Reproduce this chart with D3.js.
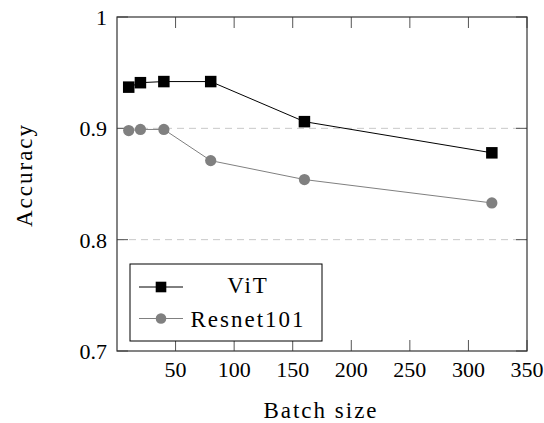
<!DOCTYPE html>
<html><head><meta charset="utf-8"><script src="https://cdn.jsdelivr.net/npm/d3@7"></script></head>
<body style="margin:0">
<svg id="chart" width="544" height="423" style="display:block;background:#fff"></svg>
<script>
const batchSizes = [10, 20, 40, 80, 160, 320];
const vitAccuracy = [0.937, 0.941, 0.942, 0.942, 0.906, 0.878];
const resnetAccuracy = [0.898, 0.899, 0.899, 0.871, 0.854, 0.833];
const xTicks = [50, 100, 150, 200, 250, 300, 350];
const yTicks = [0.7, 0.8, 0.9, 1];
const gridTicks = [0.8, 0.9];
const seriesNames = ["ViT", "Resnet101"];

const svg = d3.select("#chart");
const L = 117, R = 527, T = 17, B = 351;
const x = d3.scaleLinear().domain([0, 350]).range([L, R]);
const y = d3.scaleLinear().domain([0.7, 1]).range([B, T]);

function label(sel) {
  return sel.style("font-family", "'Liberation Serif'");
}

// grid
svg.append("g").selectAll("line").data(gridTicks).join("line")
  .attr("x1", L).attr("x2", R)
  .attr("y1", d => y(d)).attr("y2", d => y(d))
  .attr("stroke", "#c8c8c8").attr("stroke-width", 1)
  .attr("stroke-dasharray", "7,5");

// ticks (inside, mirrored)
const tl = 11;
const tg = svg.append("g").attr("stroke", "#555").attr("stroke-width", 1);
xTicks.forEach(t => {
  tg.append("line").attr("x1", x(t)).attr("x2", x(t)).attr("y1", B).attr("y2", B - tl);
  tg.append("line").attr("x1", x(t)).attr("x2", x(t)).attr("y1", T).attr("y2", T + tl);
});
yTicks.forEach(t => {
  tg.append("line").attr("y1", y(t)).attr("y2", y(t)).attr("x1", L).attr("x2", L + tl);
  tg.append("line").attr("y1", y(t)).attr("y2", y(t)).attr("x1", R).attr("x2", R - tl);
});

// frame
svg.append("rect").attr("x", L).attr("y", T).attr("width", R - L).attr("height", B - T)
  .attr("fill", "none").attr("stroke", "#333").attr("stroke-width", 1.2);

// tick labels
label(svg.append("g").selectAll("text").data(xTicks).join("text"))
  .attr("x", d => x(d)).attr("y", 377).attr("text-anchor", "middle")
  .attr("font-size", 22).text(d => String(d));
label(svg.append("g").selectAll("text").data(yTicks).join("text"))
  .attr("x", 107).attr("y", d => y(d) + 8).attr("text-anchor", "end")
  .attr("font-size", 22).text(d => String(d));

// axis titles
label(svg.append("text")).attr("x", 321).attr("y", 418).attr("text-anchor", "middle")
  .attr("font-size", 23).attr("letter-spacing", 2).text("Batch size");
label(svg.append("text")).attr("transform", "translate(32,175) rotate(-90)")
  .attr("text-anchor", "middle").attr("font-size", 23).attr("letter-spacing", 2).text("Accuracy");

// series
const line = d3.line().x((d, i) => x(batchSizes[i])).y(d => y(d));
svg.append("path").datum(resnetAccuracy).attr("d", line)
  .attr("fill", "none").attr("stroke", "#808080").attr("stroke-width", 1);
svg.append("g").selectAll("circle").data(resnetAccuracy).join("circle")
  .attr("cx", (d, i) => x(batchSizes[i])).attr("cy", d => y(d)).attr("r", 5.6)
  .attr("fill", "#808080");
svg.append("path").datum(vitAccuracy).attr("d", line)
  .attr("fill", "none").attr("stroke", "#000").attr("stroke-width", 1);
const sq = 11.5;
svg.append("g").selectAll("rect").data(vitAccuracy).join("rect")
  .attr("x", (d, i) => x(batchSizes[i]) - sq / 2).attr("y", d => y(d) - sq / 2)
  .attr("width", sq).attr("height", sq).attr("fill", "#000");

// legend
const lg = svg.append("g");
lg.append("rect").attr("x", 130).attr("y", 264).attr("width", 192).attr("height", 77)
  .attr("fill", "#fff").attr("stroke", "#000").attr("stroke-width", 1);
const rows = [
  {name: seriesNames[0], cy: 287, ty: 293, color: "#000", shape: "square"},
  {name: seriesNames[1], cy: 318.5, ty: 326.5, color: "#808080", shape: "circle"}
];
rows.forEach(r => {
  lg.append("line").attr("x1", 139).attr("x2", 183).attr("y1", r.cy).attr("y2", r.cy)
    .attr("stroke", r.color).attr("stroke-width", 1);
  if (r.shape === "square") {
    lg.append("rect").attr("x", 161 - 5.3).attr("y", r.cy - 5.3).attr("width", 10.6).attr("height", 10.6).attr("fill", r.color);
  } else {
    lg.append("circle").attr("cx", 161).attr("cy", r.cy).attr("r", 5.3).attr("fill", r.color);
  }
  label(lg.append("text")).attr("x", 248).attr("y", r.ty).attr("text-anchor", "middle")
    .attr("font-size", 23).attr("letter-spacing", 2).text(r.name);
});
</script>
</body>
</html>
